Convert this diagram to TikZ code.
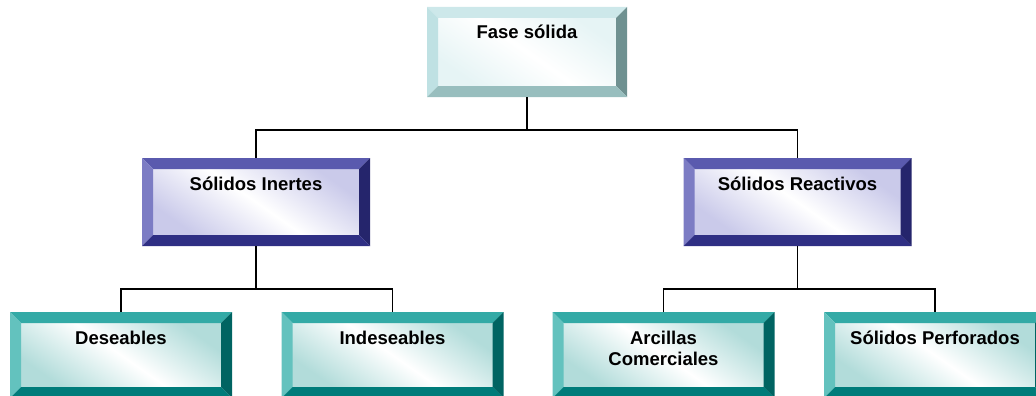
\documentclass[tikz,border=0pt]{standalone}
\usepackage{fontspec}
\setmainfont{Liberation Sans}
\begin{document}
\begin{tikzpicture}[x=1pt,y=-1pt,
  bevelbox/.style n args={5}{
    rectangle, inner sep=0pt, outer sep=0pt,
    font=\fontsize{18.5pt}{21pt}\selectfont\bfseries, align=center,
    text height=32pt,
    path picture={
      \def\bw{11pt}
      \path (path picture bounding box.north west) coordinate (bvnw)
            (path picture bounding box.north east) coordinate (bvne)
            (path picture bounding box.south west) coordinate (bvsw)
            (path picture bounding box.south east) coordinate (bvse);
      \shade[top color=#5, bottom color=#5, middle color=white, shading angle=-35]
        ([xshift=\bw,yshift=-\bw]bvnw) rectangle ([xshift=-\bw,yshift=\bw]bvse);
      \fill[#1] (bvnw) -- (bvne) -- ([xshift=-\bw,yshift=-\bw]bvne) -- ([xshift=\bw,yshift=-\bw]bvnw) -- cycle;
      \fill[#2] (bvnw) -- ([xshift=\bw,yshift=-\bw]bvnw) -- ([xshift=\bw,yshift=\bw]bvsw) -- (bvsw) -- cycle;
      \fill[#3] (bvne) -- (bvse) -- ([xshift=-\bw,yshift=\bw]bvse) -- ([xshift=-\bw,yshift=-\bw]bvne) -- cycle;
      \fill[#4] (bvsw) -- ([xshift=\bw,yshift=\bw]bvsw) -- ([xshift=-\bw,yshift=\bw]bvse) -- (bvse) -- cycle;
    }},
  cyanbox/.style={bevelbox={topcy}{leftcy}{rightcy}{botcy}{facecy},
    minimum width=200pt, minimum height=90pt, text depth=58pt},
  bluebox/.style={bevelbox={topbl}{leftbl}{rightbl}{botbl}{facebl},
    minimum width=228pt, minimum height=88pt, text depth=56pt},
  tealbox/.style={bevelbox={toptl}{lefttl}{righttl}{bottl}{facetl},
    minimum width=222pt, minimum height=86pt, text depth=54pt},
  twolines/.style={text height=53pt, text depth=33pt},
  link/.style={draw=black, line width=1.7pt}
]
\definecolor{topcy}{HTML}{CDE8EA}
\definecolor{leftcy}{HTML}{BFE1E3}
\definecolor{rightcy}{HTML}{6F9191}
\definecolor{botcy}{HTML}{98BEBE}
\definecolor{facecy}{HTML}{E6F4F5}
\definecolor{topbl}{HTML}{5A5AAE}
\definecolor{leftbl}{HTML}{7C7CC4}
\definecolor{rightbl}{HTML}{25256C}
\definecolor{botbl}{HTML}{2F2F84}
\definecolor{facebl}{HTML}{CACAEA}
\definecolor{toptl}{HTML}{33AAA6}
\definecolor{lefttl}{HTML}{63C2BE}
\definecolor{righttl}{HTML}{006462}
\definecolor{bottl}{HTML}{007C7A}
\definecolor{facetl}{HTML}{B2DCDA}

\useasboundingbox (0,0) rectangle (1036,396);
\clip (0,0) rectangle (1036,396);

% level 0
\node[cyanbox] (fase) at (527,52) {Fase sólida};
% level 1
\node[bluebox] (inertes) at (256,202) {Sólidos Inertes};
\node[bluebox] (reactivos) at (797.5,202) {Sólidos Reactivos};
% level 2
\node[tealbox] (deseables) at (121,355) {Deseables};
\node[tealbox] (indeseables) at (392.5,355) {Indeseables};
\node[tealbox, twolines] (arcillas) at (663.5,355) {Arcillas\\Comerciales};
\node[tealbox] (perforados) at (935,355) {Sólidos Perforados};

% connectors
\draw[link] (fase.south) -- ++(0,33) -| (inertes.north);
\draw[link] (fase.south) -- ++(0,33) -| (reactivos.north);
\draw[link] (inertes.south) -- ++(0,43) -| (deseables.north);
\draw[link] (inertes.south) -- ++(0,43) -| (indeseables.north);
\draw[link] (reactivos.south) -- ++(0,43) -| (arcillas.north);
\draw[link] (reactivos.south) -- ++(0,43) -| (perforados.north);
\end{tikzpicture}
\end{document}
